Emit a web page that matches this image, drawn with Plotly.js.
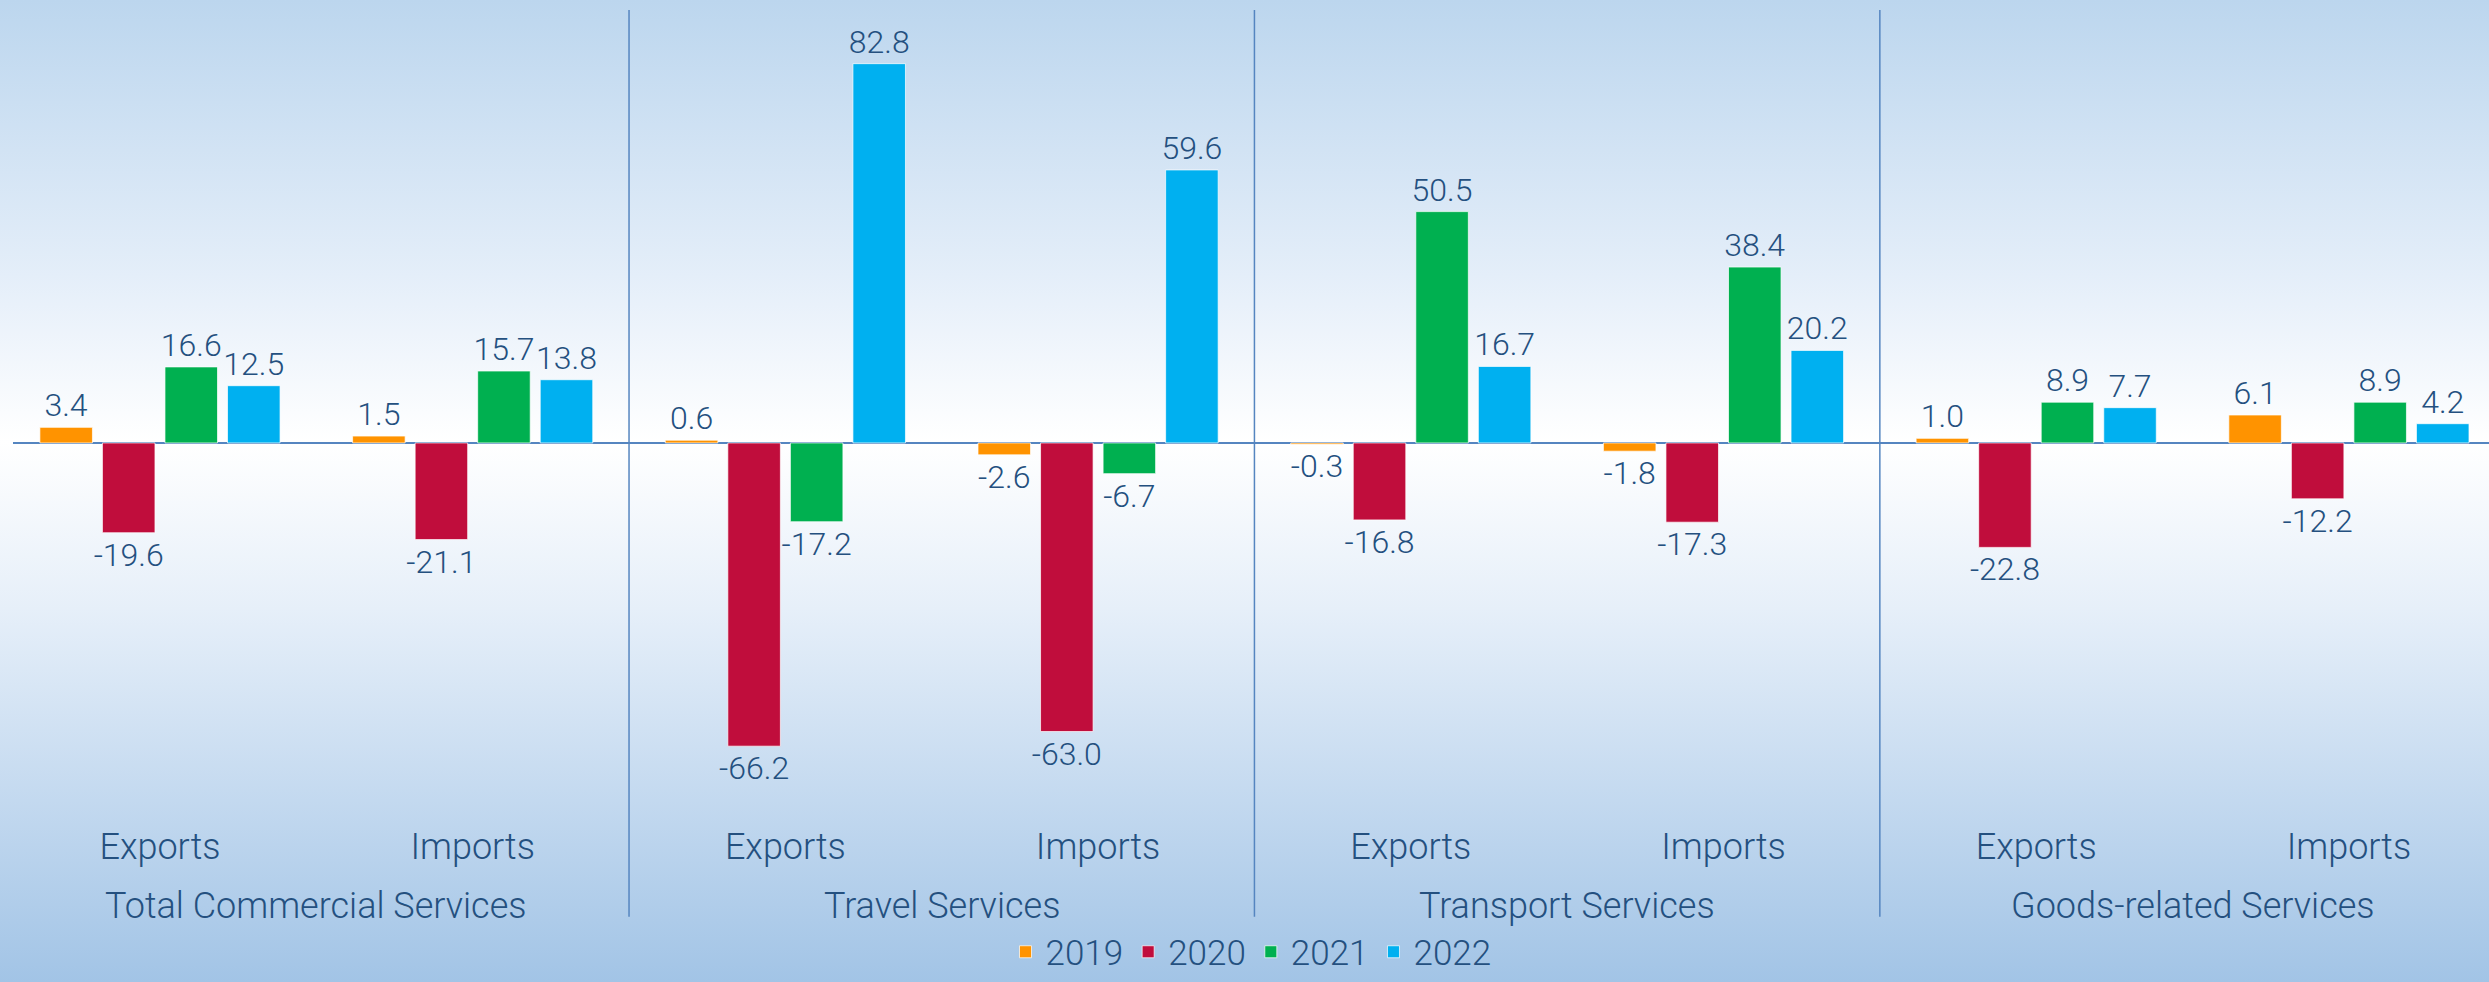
<!DOCTYPE html>
<html>
<head>
<meta charset="utf-8">
<script src="https://cdn.plot.ly/plotly-3.0.1.min.js"></script>
<style>
    html, body {
        margin: 0;
        padding: 0;
    }
    body {
        width: 2489px;
        height: 982px;
        background: linear-gradient(to bottom, #bcd6ee 0%, #e4eef9 28%, #ffffff 45%, #e6eff9 62%, #a2c4e6 100%);
    }
    #chart {
        width: 2489px;
        height: 982px;
    }
</style>
</head>
<body>
<div id="chart"></div>
<script>
    var subLabels = ['Exports', 'Imports', 'Exports', 'Imports', 'Exports', 'Imports', 'Exports', 'Imports'];
    var groupLabels = ['Total Commercial Services', 'Travel Services', 'Transport Services', 'Goods-related Services'];
    var years = ['2019', '2020', '2021', '2022'];

    var v2019 = [3.4, 1.5, 0.6, -2.6, -0.3, -1.8, 1.0, 6.1];
    var v2020 = [-19.6, -21.1, -66.2, -63.0, -16.8, -17.3, -22.8, -12.2];
    var v2021 = [16.6, 15.7, -17.2, -6.7, 50.5, 38.4, 8.9, 8.9];
    var v2022 = [12.5, 13.8, 82.8, 59.6, 16.7, 20.2, 7.7, 4.2];

    var colors = ['#ff9300', '#c00d3c', '#00b050', '#00b0f0'];
    var textColor = '#24507f';
    var lineColor = '#5585c0';
    var fontFamily = '"Helvetica Neue", Roboto, "Liberation Sans", Arial, sans-serif';

    var series = [v2019, v2020, v2021, v2022];
    var positions = subLabels.map(function (d, i) { return i; });

    var traces = series.map(function (vals, k) {
        return {
            type: 'bar',
            name: years[k],
            x: positions,
            y: vals,
            marker: {color: colors[k], line: {color: 'rgba(255,255,255,0.7)', width: 1}},
            text: vals.map(function (v) { return v.toFixed(1); }),
            textposition: 'outside',
            textangle: 0,
            constraintext: 'none',
            cliponaxis: false,
            textfont: {family: fontFamily, size: 32, color: textColor, weight: 300},
            hoverinfo: 'skip'
        };
    });

    var annotations = groupLabels.map(function (g, i) {
        return {
            x: i * 2 + 0.5,
            xref: 'x',
            y: -0.1325,
            yref: 'paper',
            yanchor: 'middle',
            text: g,
            showarrow: false,
            font: {family: fontFamily, size: 36, color: textColor, weight: 300}
        };
    });

    var shapes = [1.5, 3.5, 5.5].map(function (xv) {
        return {
            type: 'line',
            xref: 'x',
            yref: 'paper',
            x0: xv, x1: xv,
            y0: -0.146, y1: 0.9875,
            line: {color: lineColor, width: 1.5}
        };
    });

    var layout = {
        width: 2489,
        height: 982,
        paper_bgcolor: 'rgba(0,0,0,0)',
        plot_bgcolor: 'rgba(0,0,0,0)',
        font: {family: fontFamily, color: textColor, weight: 300},
        barmode: 'group',
        bargap: 0.2,
        bargroupgap: 0.16,
        showlegend: true,
        legend: {
            orientation: 'h',
            x: 0.5,
            xanchor: 'center',
            y: -0.19,
            yanchor: 'middle',
            font: {family: fontFamily, size: 35, color: textColor, weight: 300},
            bgcolor: 'rgba(0,0,0,0)'
        },
        xaxis: {
            range: [-0.47, 7.448],
            tickvals: positions,
            ticktext: subLabels,
            tickfont: {family: fontFamily, size: 36, color: textColor, weight: 300},
            ticks: '',
            ticklabelstandoff: 22,
            automargin: false,
            showgrid: false,
            zeroline: false,
            showline: false,
            fixedrange: true
        },
        yaxis: {
            range: [-77.95, 96.7],
            showticklabels: false,
            ticks: '',
            automargin: false,
            showgrid: false,
            zeroline: true,
            zerolinecolor: lineColor,
            zerolinewidth: 2,
            showline: false,
            fixedrange: true
        },
        margin: {
            l: 13,
            r: 0,
            b: 182,
            t: 0,
            autoexpand: false
        },
        annotations: annotations,
        shapes: shapes
    };

    Plotly.newPlot('chart', traces, layout, {displayModeBar: false, staticPlot: true});
</script>
</body>
</html>
